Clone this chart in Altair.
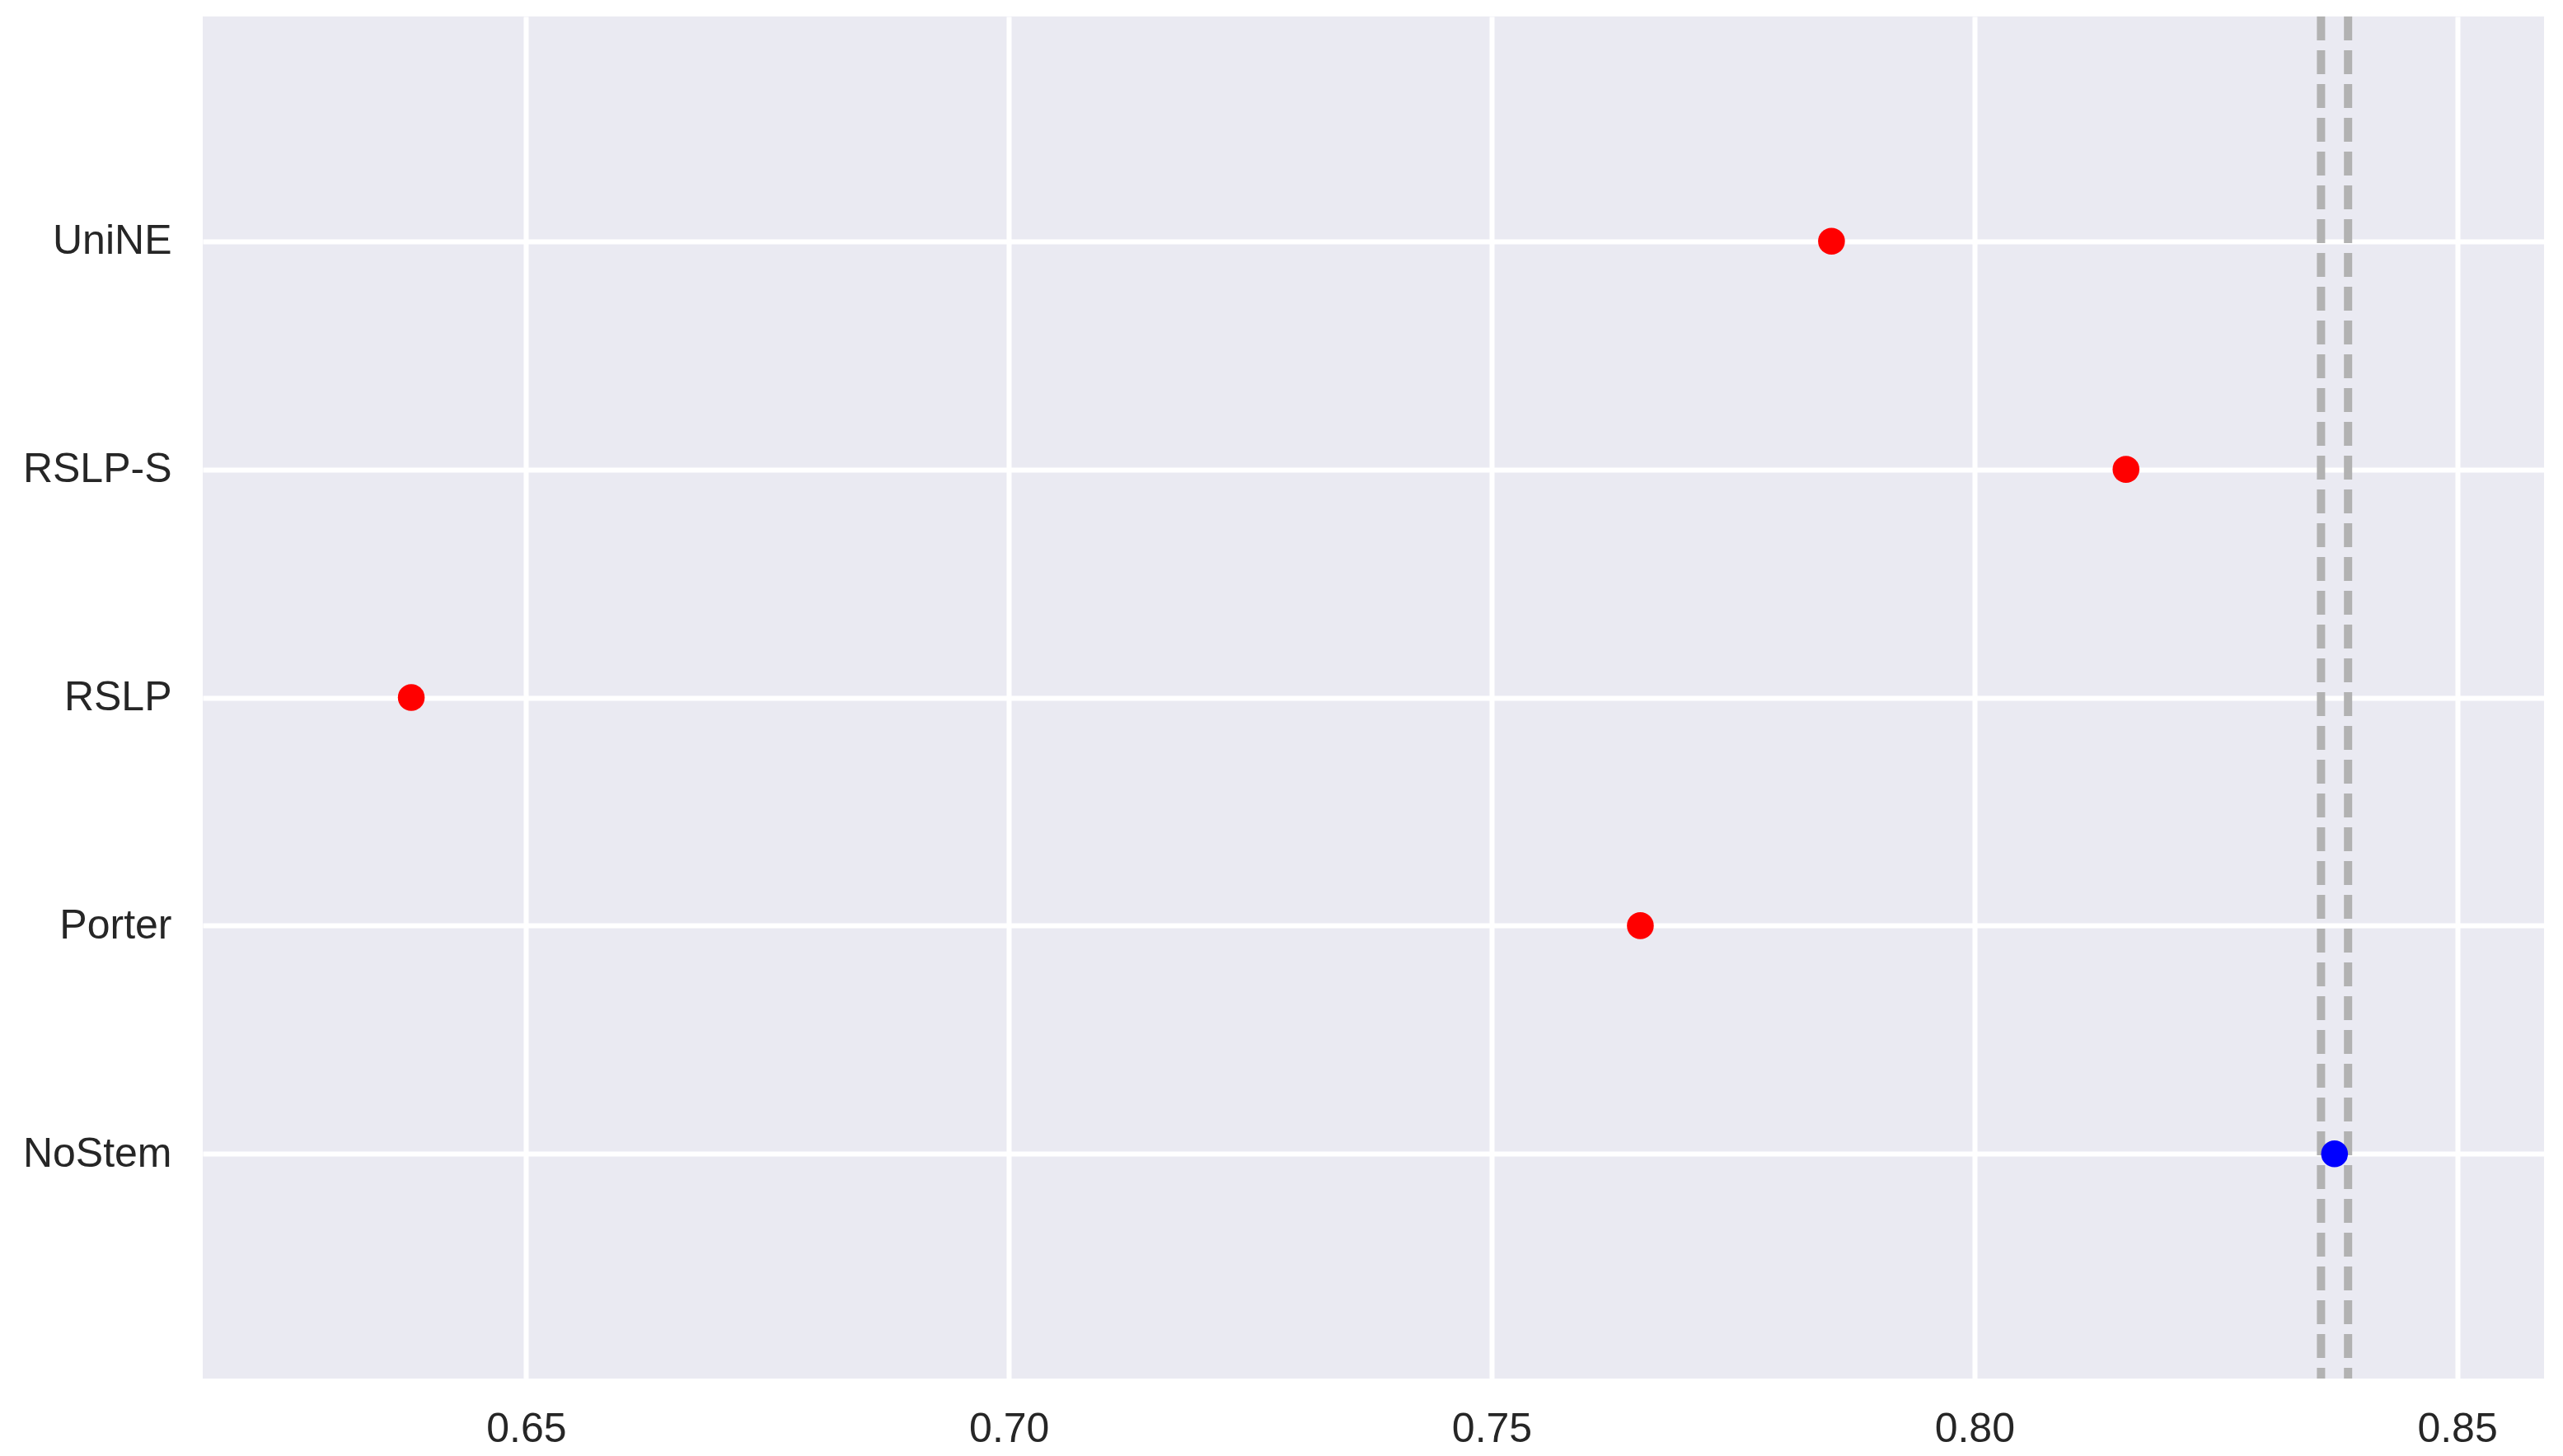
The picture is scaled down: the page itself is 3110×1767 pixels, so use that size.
import altair as alt
import pandas as pd

methods = ["UniNE", "RSLP-S", "RSLP", "Porter", "NoStem"]
scores = [0.7852, 0.8157, 0.6381, 0.7654, 0.8373]
groups = ["other", "other", "other", "other", "base"]
group_colors = {"other": "#ff0000", "base": "#0000ff"}
ref_lines = [0.8359, 0.8387]
x_ticks = [0.65, 0.70, 0.75, 0.80, 0.85]
x_domain = [0.6165, 0.859]

df = pd.DataFrame({"method": methods, "score": scores, "group": groups})
df_lines = pd.DataFrame({"x": ref_lines})

x_scale = alt.Scale(domain=x_domain, nice=False, zero=False)
y_scale = alt.Scale(domain=methods, padding=0.985)

lines = alt.Chart(df_lines).mark_rule(
    color="#b2b2b2", strokeWidth=10, strokeDash=[29, 12]
).encode(
    x=alt.X("x:Q", scale=x_scale)
)

points = alt.Chart(df).mark_circle(size=1060, opacity=1).encode(
    x=alt.X(
        "score:Q",
        scale=x_scale,
        title=None,
        axis=alt.Axis(
            values=x_ticks,
            format=".2f",
            grid=True,
            gridColor="white",
            gridWidth=6,
            domain=False,
            ticks=False,
            labelFontSize=50,
            labelFont="Liberation Sans",
            labelColor="#262626",
            labelPadding=36,
            labelLimit=0,
        ),
    ),
    y=alt.Y(
        "method:O",
        scale=y_scale,
        sort=methods,
        title=None,
        axis=alt.Axis(
            grid=True,
            gridColor="white",
            gridWidth=6,
            domain=False,
            ticks=False,
            labelFontSize=50,
            labelFont="Liberation Sans",
            labelColor="#262626",
            labelPadding=38,
            labelLimit=0,
        ),
    ),
    color=alt.Color(
        "group:N",
        scale=alt.Scale(domain=list(group_colors.keys()), range=list(group_colors.values())),
        legend=None,
    ),
)

chart = alt.layer(lines, points).properties(
    width=2841,
    height=1653,
    autosize=alt.AutoSizeParams(type="none"),
    padding={"left": 238, "top": 12, "right": 10, "bottom": 88},
    background="white",
).configure_view(
    fill="#eaeaf2",
    stroke=None,
)

chart.save("out.html", embed_options={"renderer": "svg", "actions": False})
